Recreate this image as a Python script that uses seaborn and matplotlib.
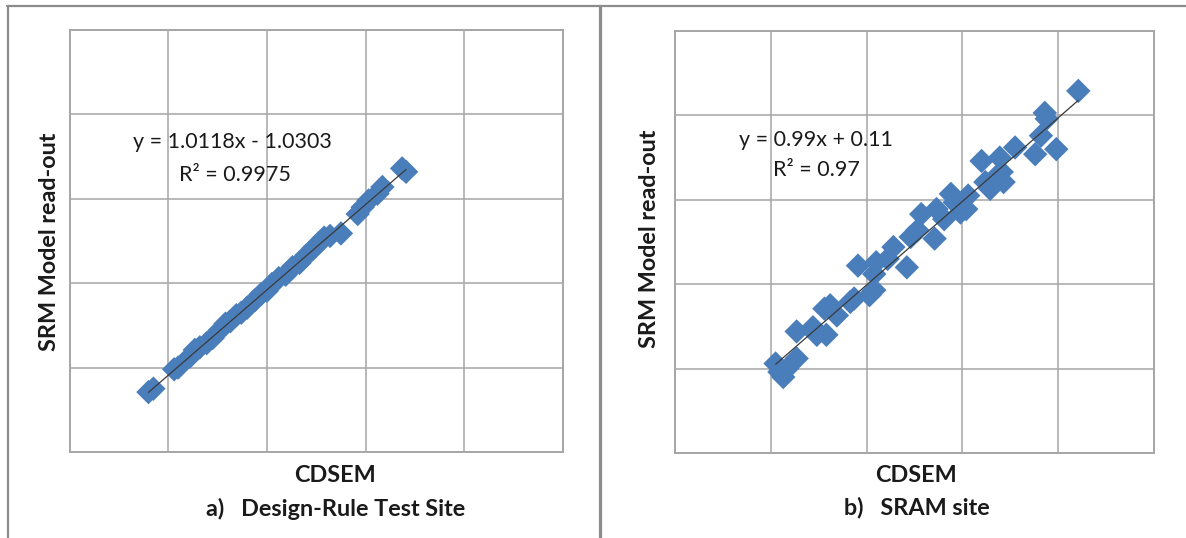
import matplotlib
matplotlib.use("Agg")
import matplotlib.pyplot as plt
from matplotlib.lines import Line2D
import seaborn as sns
import pandas as pd

# ---- data -------------------------------------------------------------
# a) Design-Rule Test Site: CDSEM vs. SRM model read-out
drts_cdsem = [8.0, 8.5, 10.6, 11.0, 12.2, 12.7, 13.2, 13.9, 14.5, 15.2, 15.8, 16.3,
              16.9, 17.4, 18.0, 18.8, 19.4, 20.0, 20.5, 21.2, 21.9, 22.6, 23.3, 24.0,
              24.7, 25.3, 25.8, 26.4, 27.5, 29.2, 29.7, 30.3, 31.2, 31.7, 33.7, 34.1]
drts_srm = [7.1, 7.5, 9.8, 10.0, 11.3, 12.1, 12.4, 12.9, 13.5, 14.4, 15.2, 15.5,
            16.2, 16.5, 17.1, 18.0, 18.7, 19.1, 19.9, 20.6, 21.0, 21.9, 22.4, 23.3,
            24.1, 24.8, 25.4, 25.6, 25.9, 28.2, 29.0, 29.8, 30.6, 31.4, 33.6, 33.2]
drts_fit = (1.0118, -1.0303)
drts_r2 = 0.9975

# b) SRAM site
sram_cdsem = [10.9, 10.5, 11.7, 12.7, 11.3, 12.7, 14.4, 14.8, 15.8, 15.6, 16.2, 16.9,
              18.3, 18.7, 19.1, 20.3, 20.8, 21.0, 20.8, 22.2, 22.8, 24.2, 24.6, 25.3,
              25.7, 27.1, 27.3, 28.1, 28.8, 29.2, 29.8, 30.4, 30.6, 32.0, 32.4, 32.9,
              33.5, 33.9, 34.3, 34.1, 35.5, 37.6, 38.2, 38.6, 38.8, 39.8, 42.1]
sram_srm = [9.6, 10.6, 10.0, 11.2, 9.0, 14.4, 14.9, 14.0, 14.0, 17.1, 17.5, 16.3,
            17.9, 18.3, 22.2, 18.7, 19.3, 22.6, 21.2, 23.0, 24.4, 22.0, 25.6, 26.4,
            28.3, 25.4, 28.9, 27.7, 30.7, 29.7, 28.5, 28.9, 30.5, 34.6, 32.1, 31.3,
            32.7, 35.0, 32.1, 33.3, 36.2, 35.4, 37.6, 40.3, 39.6, 36.0, 42.9]
sram_fit = (0.99, 0.11)
sram_r2 = 0.97

axis_ticks = [0, 10, 20, 30, 40, 50]

# ---- style ------------------------------------------------------------
sns.set_style("white")
plt.rcParams["font.family"] = ["Lato", "DejaVu Sans"]

W, H = 1186, 538
fig = plt.figure(figsize=(W / 100, H / 100), dpi=100)


def fx(px):
    return px / W


def fy(py):
    return 1 - py / H


MARKER_COLOR = "#4A7EBB"
GRID_COLOR = "#A6A6A6"


def panel(rect, xs, ys, fit, r2, eq_pos, r2_pos, eq_fmt):
    ax = fig.add_axes(rect)
    df = pd.DataFrame({"CDSEM": xs, "SRM": ys})
    sns.scatterplot(data=df, x="CDSEM", y="SRM", marker="D", s=155,
                    color=MARKER_COLOR, edgecolor="none", linewidth=0,
                    ax=ax, zorder=3)
    slope, icept = fit
    x0, x1 = min(xs), max(xs)
    line = pd.DataFrame({"x": [x0, x1],
                         "y": [slope * x0 + icept, slope * x1 + icept]})
    sns.lineplot(data=line, x="x", y="y", color="#3a3a3a", linewidth=0.9,
                 ax=ax, zorder=4)
    ax.set_xlim(axis_ticks[0], axis_ticks[-1])
    ax.set_ylim(axis_ticks[0], axis_ticks[-1])
    ax.set_xticks(axis_ticks)
    ax.set_yticks(axis_ticks)
    ax.set_xticklabels([])
    ax.set_yticklabels([])
    ax.tick_params(length=0)
    ax.set_xlabel("")
    ax.set_ylabel("")
    ax.grid(True, color=GRID_COLOR, linewidth=1.1)
    ax.set_axisbelow(True)
    for sp in ax.spines.values():
        sp.set_color(GRID_COLOR)
        sp.set_linewidth(1.4)
    ax.text(eq_pos[0], eq_pos[1], eq_fmt, transform=ax.transAxes,
            ha="center", va="center", fontsize=15.5, color="#1a1a1a", zorder=5)
    ax.text(r2_pos[0], r2_pos[1], f"R² = {r2}", transform=ax.transAxes,
            ha="center", va="center", fontsize=15.5, color="#1a1a1a", zorder=5)
    return ax


# left panel
panel([fx(69.5), fy(452), (563 - 69.5) / W, 422 / H],
      drts_cdsem, drts_srm, drts_fit, drts_r2,
      (0.330, 0.735), (0.335, 0.656),
      f"y = {drts_fit[0]}x - {abs(drts_fit[1])}")

# right panel
panel([fx(675), fy(453), (1154 - 675) / W, 422 / H],
      sram_cdsem, sram_srm, sram_fit, sram_r2,
      (0.294, 0.742), (0.295, 0.670),
      f"y = {sram_fit[0]}x + {sram_fit[1]}")

# axis titles and captions
title_kw = dict(fontsize=16.8, fontweight="bold", color="#1a1a1a",
                ha="center", va="center")
fig.text(fx(50), fy(242), "SRM Model read-out", rotation=90, **title_kw)
fig.text(fx(650), fy(239), "SRM Model read-out", rotation=90, **title_kw)
fig.text(fx(335), fy(476), "CDSEM", **title_kw)
fig.text(fx(916), fy(475), "CDSEM", **title_kw)
fig.text(fx(335.5), fy(509), "a)   Design-Rule Test Site", **title_kw)
fig.text(fx(916.5), fy(507), "b)   SRAM site", **title_kw)

# panel frames
frame_kw = dict(color="#8C8C8C", transform=fig.transFigure, zorder=10)
fig.add_artist(Line2D([fx(7), fx(W)], [fy(6), fy(6)], linewidth=1.6, **frame_kw))
fig.add_artist(Line2D([fx(8), fx(8)], [fy(6), fy(H)], linewidth=1.6, **frame_kw))
fig.add_artist(Line2D([fx(600.5), fx(600.5)], [fy(6), fy(H)], linewidth=2.3, **frame_kw))

fig.savefig("out.png", dpi=100, facecolor="white")
